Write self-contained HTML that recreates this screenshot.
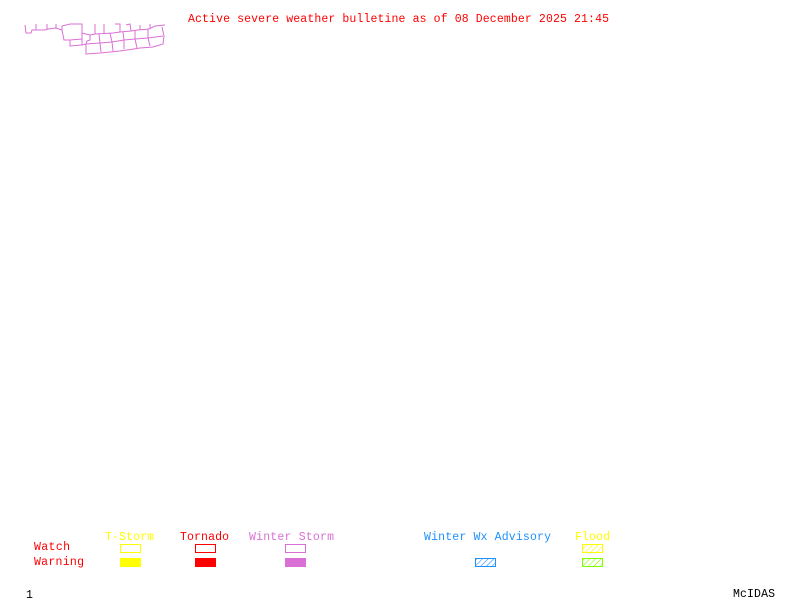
<!DOCTYPE html>
<html><head><style>
html,body{margin:0;padding:0;background:#fff;}
svg{display:block;}
text{font-family:"Liberation Mono",monospace;font-size:11.5px;}
</style></head><body>
<svg width="800" height="600" xmlns="http://www.w3.org/2000/svg">
<defs>
<pattern id="hb" width="4" height="4" patternUnits="userSpaceOnUse" patternTransform="rotate(45)"><line x1="0" y1="0" x2="0" y2="4" stroke="#1e90ff" stroke-width="1.2"/></pattern>
<pattern id="hy" width="4" height="4" patternUnits="userSpaceOnUse" patternTransform="rotate(45)"><line x1="0" y1="0" x2="0" y2="4" stroke="#ffff00" stroke-width="1.2"/></pattern>
<pattern id="hg" width="4" height="4" patternUnits="userSpaceOnUse" patternTransform="rotate(45)"><line x1="0" y1="0" x2="0" y2="4" stroke="#7fff00" stroke-width="1.2"/></pattern>
</defs>
<text x="188" y="22" fill="#ff0000" textLength="421">Active severe weather bulletine as of 08 December 2025 21:45</text>
<g fill="none" stroke="#da70d6" stroke-width="1">
<path d="M25,25 L26,33 L31,33 L32,30 L45,30 L48,29 L56,28 L62,30 L62,26"/>
<path d="M36,24 L36,30 M47,24 L47,29 M56,24 L56,28"/>
<path d="M62,26 L70,24 L82,24 L82,33 L90,35 L95,34 L113,33 L120,32 L131,31 L138,30 L149,29 L155,26 L165,25"/>
<path d="M62,30 L64,40 L70,40 L70,46 L82,45 L86,44 L86,54 L100,53 L120,51 L140,48 L153,47 L163,44 L164,36 L162,27"/>
<path d="M70,40 L82,39 L82,45 M82,39 L82,33 M90,35 L90,40 L87,41 L86,44"/>
<path d="M99,34 L100,43 L101,52 M110,33 L112,42 L113,51 M123,32 L124,40 L124,49 M135,30 L135,39 L137,48 M148,29 L148,38 L150,46"/>
<path d="M86,44 L100,43 L112,42 L124,40 L135,39 L148,38 L163,36"/>
<path d="M95,24 L95,34 M104,24 L104,33 M115,24 L120,24 L120,32 M126,25 L130,24 L131,31 M140,25 L140,30 M150,24 L150,29"/>
</g>
<text x="34" y="550" fill="#ff0000" textLength="36">Watch</text>
<text x="34" y="565" fill="#ff0000" textLength="50">Warning</text>
<text x="105" y="540" fill="#ffff00" textLength="49">T-Storm</text>
<text x="180" y="540" fill="#ff0000" textLength="49">Tornado</text>
<text x="249" y="540" fill="#da70d6" textLength="85">Winter Storm</text>
<text x="424" y="540" fill="#1e90ff" textLength="127">Winter Wx Advisory</text>
<text x="575" y="540" fill="#ffff00" textLength="35">Flood</text>
<rect x="120.5" y="544.5" width="20" height="8" fill="none" stroke="#ffff00"/>
<rect x="120" y="558" width="21" height="9" fill="#ffff00"/>
<rect x="195.5" y="544.5" width="20" height="8" fill="none" stroke="#ff0000"/>
<rect x="195" y="558" width="21" height="9" fill="#ff0000"/>
<rect x="285.5" y="544.5" width="20" height="8" fill="none" stroke="#da70d6"/>
<rect x="285" y="558" width="21" height="9" fill="#da70d6"/>
<rect x="475.5" y="558.5" width="20" height="8" fill="url(#hb)" stroke="#1e90ff"/>
<rect x="582.5" y="544.5" width="20" height="8" fill="url(#hy)" stroke="#ffff00"/>
<rect x="582.5" y="558.5" width="20" height="8" fill="url(#hg)" stroke="#7fff00"/>
<text x="26" y="598" fill="#000" font-size="10">1</text>
<text x="733" y="597" fill="#000" textLength="42">McIDAS</text>
</svg>
</body></html>
